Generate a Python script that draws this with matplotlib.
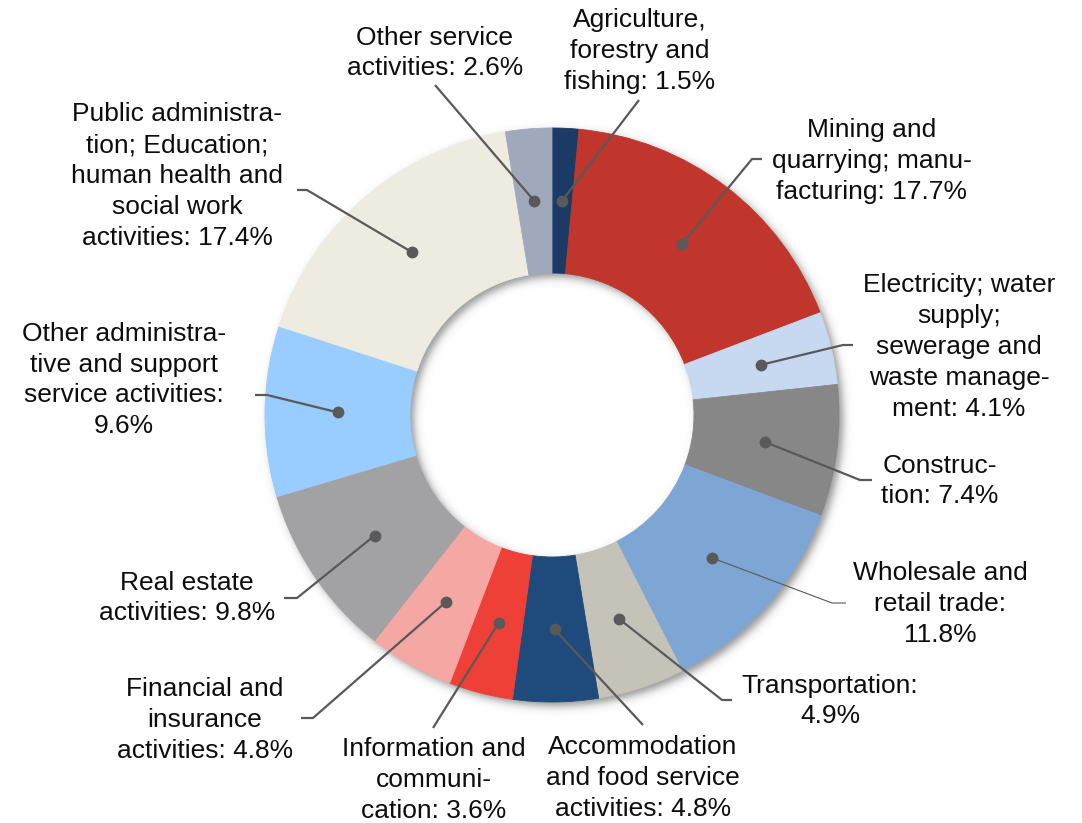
import numpy as np
import matplotlib.pyplot as plt

plt.rcParams['font.family'] = ['Liberation Sans', 'DejaVu Sans']

# Gross value added by sector, share in %
labels = [
    "Agriculture,\nforestry and\nfishing: {}%",
    "Mining and\nquarrying; manu-\nfacturing: {}%",
    "Electricity; water\nsupply;\nsewerage and\nwaste manage-\nment: {}%",
    "Construc-\ntion: {}%",
    "Wholesale and\nretail trade:\n{}%",
    "Transportation:\n{}%",
    "Accommodation\nand food service\nactivities: {}%",
    "Information and\ncommuni-\ncation: {}%",
    "Financial and\ninsurance\nactivities: {}%",
    "Real estate\nactivities: {}%",
    "Other administra-\ntive and support\nservice activities:\n{}%",
    "Public administra-\ntion; Education;\nhuman health and\nsocial work\nactivities: {}%",
    "Other service\nactivities: {}%",
]
shares = [1.5, 17.7, 4.1, 7.4, 11.8, 4.9, 4.8, 3.6, 4.8, 9.8, 9.6, 17.4, 2.6]
colors = ['#1b3a66', '#c0352c', '#c6d9f1', '#878787', '#7ea6d4', '#c5c2b8',
          '#1f4a7c', '#ee4037', '#f4a7a3', '#a2a2a4', '#99ccff', '#eeece1',
          '#a0a8bb']

# layout in pixels (y measured from the top)
W, H = 1082, 823
cx, cy = 552, 415
r_out, r_in = 287, 142
text_pos = [(640, 51), (872, 161), (959, 347), (940, 481), (940, 604),
            (830, 701), (643, 778), (434, 780), (205, 720), (187, 598),
            (124, 380), (177, 176), (435, 53)]
# leader line: elbow point and end point next to the label
leaders = [
    [(639, 100)],
    [(752, 159), (762, 159)],
    [(843, 345), (853, 345)],
    [(860, 480), (872, 480)],
    [(832, 603), (846, 603)],
    [(722, 700), (732, 700)],
    [(643, 725)],
    [(433, 728)],
    [(313, 718), (301, 718)],
    [(297, 598), (284, 598)],
    [(267, 395), (255, 395)],
    [(307, 190), (297, 190)],
    [(435, 85)],
]

fig = plt.figure(figsize=(W / 100, H / 100), dpi=100)
ax = fig.add_axes([0, 0, 1, 1])

# soft drop shadow under the ring
yy, xx = np.mgrid[0:H, 0:W] + 0.5
rr = np.hypot(xx - (cx + 4), yy - (cy + 4))
soft = 2.5
alpha = 0.55 / (1 + np.exp(-(r_out - rr) / soft)) / (1 + np.exp(-(rr - r_in) / soft))
shadow = np.zeros((H, W, 4))
shadow[..., :3] = 0.25
shadow[..., 3] = alpha
ax.imshow(shadow, extent=(0, W, 0, H), origin='upper', zorder=0,
          interpolation='bilinear')

wedges, _ = ax.pie(shares, colors=colors, startangle=90, counterclock=False,
                   center=(cx, H - cy), radius=r_out,
                   wedgeprops=dict(width=r_out - r_in, linewidth=0.6))
for w in wedges:
    w.set_edgecolor(w.get_facecolor())
    w.set_zorder(1)

r_dot = (r_out + r_in) / 2
for i, (w, lab, v) in enumerate(zip(wedges, labels, shares)):
    mid = np.deg2rad((w.theta1 + w.theta2) / 2)
    dx, dy = cx + r_dot * np.cos(mid), H - cy + r_dot * np.sin(mid)
    pts = [(dx, dy)] + [(px, H - py) for px, py in leaders[i]]
    xs, ys = zip(*pts)
    lw = 0.8 if i == 4 else 1.6
    ax.plot(xs, ys, color='#595959', lw=lw, zorder=3, solid_capstyle='butt')
    ax.plot(dx, dy, 'o', color='#595959', ms=7.5, zorder=4)
    tx, ty = text_pos[i]
    ax.text(tx, H - ty, lab.format(v), ha='center', va='center',
            multialignment='center', fontsize=19, linespacing=1.36,
            color='#0d0d0d', zorder=5)

ax.set_xlim(0, W)
ax.set_ylim(0, H)
ax.set_aspect('equal')
ax.axis('off')

fig.savefig('out.png', dpi=100)
